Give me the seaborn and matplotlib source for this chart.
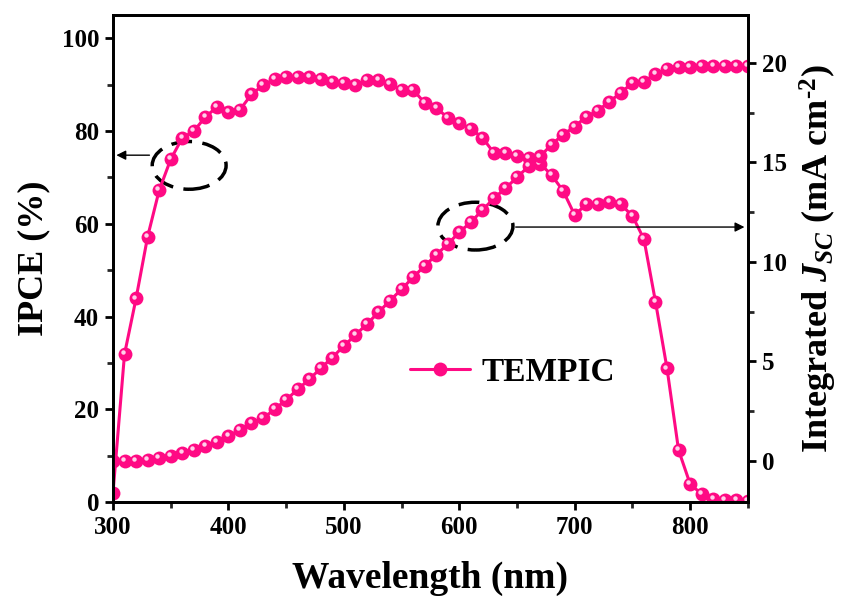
import numpy as np
import seaborn as sns
import matplotlib.pyplot as plt
from matplotlib.patches import Ellipse
from matplotlib.ticker import MultipleLocator
import matplotlib.transforms as mtransforms

sns.set_style("ticks")
plt.rcParams['font.family'] = ['Liberation Serif', 'DejaVu Serif']
plt.rcParams['font.weight'] = 'bold'
plt.rcParams['text.color'] = 'black'
plt.rcParams['axes.labelcolor'] = 'black'
plt.rcParams['mathtext.fontset'] = 'custom'
plt.rcParams['mathtext.rm'] = 'Liberation Serif:bold'
plt.rcParams['mathtext.it'] = 'Liberation Serif:italic:bold'
plt.rcParams['mathtext.bf'] = 'Liberation Serif:bold'

#-----[data]-----
wavelength = list(range(300, 851, 10))
ipce = [1.9, 31.9, 43.9, 57.2, 67.2, 73.9, 78.5, 80.0, 83.0, 85.2,
        84.2, 84.6, 87.9, 89.9, 91.2, 91.6, 91.7, 91.7, 91.3, 90.6,
        90.4, 89.9, 91.0, 91.0, 90.1, 88.9, 88.9, 86.1, 85.0, 82.9,
        81.8, 80.5, 78.6, 75.3, 75.3, 74.6, 74.2, 73.0, 70.5, 67.1,
        61.9, 64.2, 64.2, 64.8, 64.2, 61.7, 56.7, 43.2, 28.8, 11.2,
        3.9, 1.7, 0.6, 0.5, 0.4, 0.3]
jsc = [0.0, 0.0, 0.0, 0.05, 0.13, 0.25, 0.39, 0.55, 0.75, 0.97,
       1.26, 1.56, 1.89, 2.14, 2.6, 3.07, 3.6, 4.1, 4.66, 5.2,
       5.78, 6.33, 6.88, 7.47, 8.06, 8.63, 9.23, 9.8, 10.35, 10.9,
       11.49, 12.0, 12.6, 13.2, 13.7, 14.25, 14.8, 15.3, 15.9, 16.4,
       16.8, 17.3, 17.6, 18.05, 18.5, 19.0, 19.06, 19.45, 19.7, 19.8,
       19.82, 19.83, 19.84, 19.84, 19.84, 19.84]

pink = '#ff0a84'
hi = '#ffd0ea'

fig = plt.figure(figsize=(8.45, 6.06), dpi=100)
ax = fig.add_axes([0.1337, 0.1716, 0.7513, 0.8034])
ax2 = ax.twinx()

def draw(a, y, label=None):
    sns.lineplot(x=wavelength, y=y, ax=a, color=pink, lw=2.2, marker='o',
                 markersize=10, markeredgewidth=0, label=label, legend=False)
    off = mtransforms.offset_copy(a.transData, fig=fig, x=-1.2, y=1.4, units='points')
    a.plot(wavelength, y, ls='none', marker='o', ms=3.2, mew=0, color=hi, transform=off)

draw(ax, ipce, 'TEMPIC')
draw(ax2, jsc)

ax.set_xlim(300, 850)
ax.set_ylim(0, 105)
ax2.set_ylim(-2.06, 22.4)
ax.xaxis.set_major_locator(MultipleLocator(100))
ax.xaxis.set_minor_locator(MultipleLocator(50))
ax.yaxis.set_major_locator(MultipleLocator(20))
ax.yaxis.set_minor_locator(MultipleLocator(10))
ax2.yaxis.set_major_locator(MultipleLocator(5))
ax2.yaxis.set_minor_locator(MultipleLocator(2.5))

for a in (ax, ax2):
    for s in a.spines.values():
        s.set_visible(True)
        s.set_linewidth(2)
        s.set_color('black')
    a.tick_params(which='major', direction='out', length=6, width=2, labelsize=18,
                  colors='black', pad=4)
    a.tick_params(which='minor', direction='out', length=4, width=2)
ax.tick_params(axis='y', right=False)

ax.set_xlabel('Wavelength (nm)', fontsize=27, fontweight='bold', labelpad=16)
ax.set_ylabel('IPCE (%)', fontsize=26, fontweight='bold', labelpad=8)
ax2.set_ylabel('Integrated $J_{SC}$ (mA cm$^{\\text{-2}}$)', fontsize=26, fontweight='bold', labelpad=8)

# annotations
ax.add_patch(Ellipse((366, 72.6), 64, 10.3, fill=False, ec='black', lw=2.5, ls=(0, (6, 3))))
ax.annotate('', xy=(300.5, 74.8), xytext=(334, 74.8),
            arrowprops=dict(arrowstyle='-|>', color='black', lw=1, mutation_scale=14))
ax.add_patch(Ellipse((614, 59.5), 65, 10.3, fill=False, ec='black', lw=2.5, ls=(0, (6, 3))))
ax.annotate('', xy=(849.5, 59.3), xytext=(646.5, 59.3),
            arrowprops=dict(arrowstyle='-|>', color='black', lw=1, mutation_scale=14))

h, l = ax.get_legend_handles_labels()
ax.legend(h, l, loc='center left', bbox_to_anchor=(0.42, 0.267), frameon=False,
          handlelength=1.8, handletextpad=0.35, prop={'size': 24, 'weight': 'bold'})

fig.savefig('out.png', dpi=100)
